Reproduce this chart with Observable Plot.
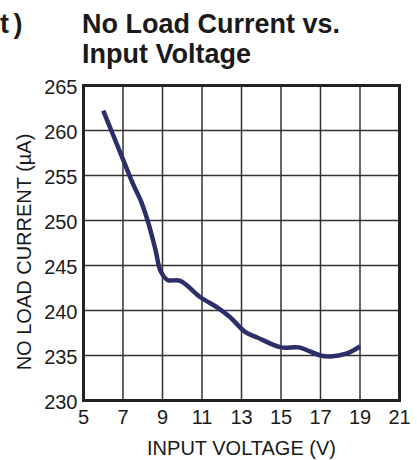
<!DOCTYPE html>
<html>
<head>
<meta charset="utf-8">
<script src="https://cdn.jsdelivr.net/npm/d3@7"></script>
<script src="https://cdn.jsdelivr.net/npm/@observablehq/plot@0.6"></script>
<style>
  html, body { margin: 0; padding: 0; background: #fff; }
  body { width: 417px; height: 460px; overflow: hidden; position: relative; font-family: "Liberation Sans", Arial, sans-serif; }
  #title { height: 72px; box-sizing: border-box; padding: 9px 0 0 82px; font-weight: bold; font-size: 27px; line-height: 30px; color: #1a1a1a; }
  #prev { position: absolute; top: 9px; left: 0; font-weight: bold; font-size: 27px; line-height: 30px; color: #1a1a1a; white-space: nowrap; word-spacing: -3px; }
  #chart svg { display: block; }
</style>
</head>
<body>
<div id="prev">t )</div>
<div id="title">No Load Current vs.<br>Input Voltage</div>
<div id="chart"></div>
<script>
const voltage = [6, 6.5, 7, 7.5, 7.9, 8.3, 8.65, 8.9, 9.25, 9.9, 10.9, 11.8, 12.4, 13.2, 13.8, 15, 15.9, 17, 17.5, 18.3, 19];
const current = [262.2, 259.5, 256.8, 254.1, 252.2, 249.6, 246.7, 244.4, 243.4, 243.3, 241.5, 240.3, 239.3, 237.6, 237.0, 235.9, 235.9, 235.0, 234.9, 235.2, 236.0];
const xTicks = [5, 7, 9, 11, 13, 15, 17, 19, 21];
const yTicks = [230, 235, 240, 245, 250, 255, 260, 265];
const xLabel = "INPUT VOLTAGE (V)";
const yLabel = "NO LOAD CURRENT (µA)";

const data = voltage.map((v, i) => ({v, c: current[i]}));

const chart = Plot.plot({
  width: 417,
  height: 388,
  marginLeft: 83,
  marginRight: 18,
  marginTop: 13,
  marginBottom: 60,
  style: {fontFamily: "Liberation Sans, Arial, sans-serif", fontSize: "20px", color: "#1a1a1a", background: "#fff"},
  x: {domain: [5, 21]},
  y: {domain: [230, 265]},
  marks: [
    Plot.ruleX(xTicks, {stroke: "#333", strokeWidth: 1.5}),
    Plot.ruleY(yTicks, {stroke: "#333", strokeWidth: 1.5}),
    Plot.frame({stroke: "#222", strokeWidth: 3}),
    Plot.axisX(xTicks, {tickSize: 0, tickPadding: 9, fontSize: 20, label: null}),
    Plot.axisY(yTicks, {tickSize: 0, tickPadding: 6, dy: 2.5, fontSize: 20, label: null}),
    Plot.line(data, {x: "v", y: "c", stroke: "#2c2e6a", strokeWidth: 4.5, curve: "catmull-rom", strokeLinecap: "butt"}),
    Plot.text([xLabel], {frameAnchor: "bottom", dy: 48, lineAnchor: "middle", fontSize: 20, fill: "#1a1a1a"}),
    Plot.text([yLabel], {frameAnchor: "top-left", dx: -58.5, dy: 166.5, rotate: -90, textAnchor: "middle", lineAnchor: "middle", fontSize: 20, fill: "#1a1a1a"})
  ]
});
document.getElementById("chart").appendChild(chart);
</script>
</body>
</html>
